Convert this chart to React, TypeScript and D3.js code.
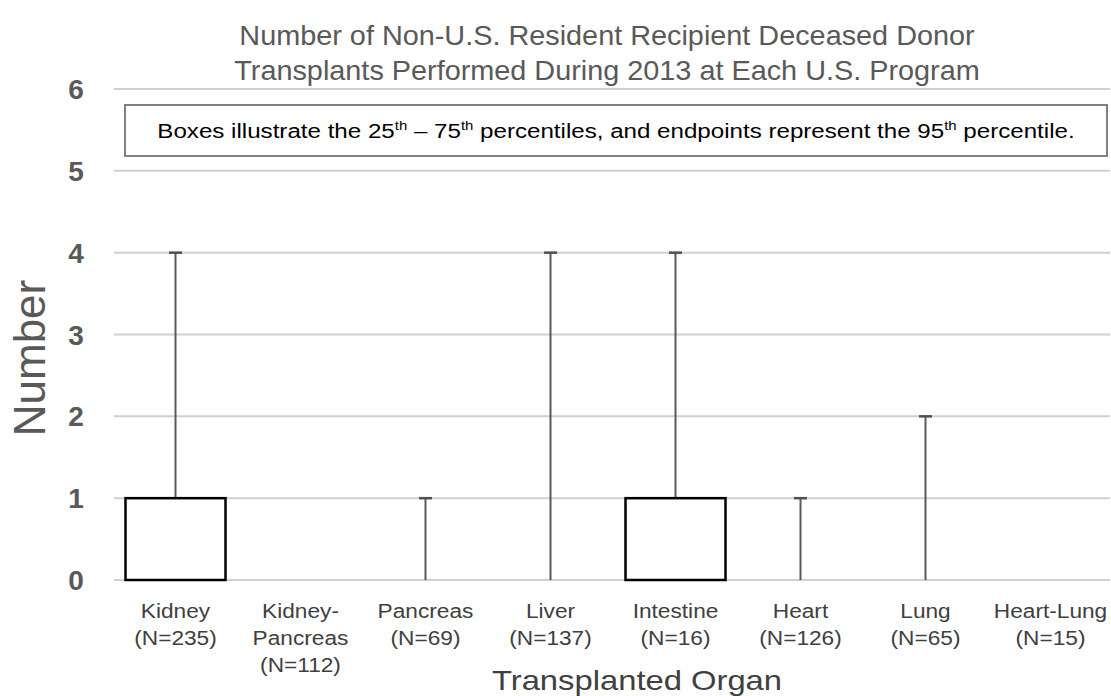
import React, { useEffect, useRef } from 'react';
import * as d3 from 'd3';

const organs = ['Kidney', 'Kidney-Pancreas', 'Pancreas', 'Liver', 'Intestine', 'Heart', 'Lung', 'Heart-Lung'];
const labelLines = [
  ['Kidney', '(N=235)'],
  ['Kidney-', 'Pancreas', '(N=112)'],
  ['Pancreas', '(N=69)'],
  ['Liver', '(N=137)'],
  ['Intestine', '(N=16)'],
  ['Heart', '(N=126)'],
  ['Lung', '(N=65)'],
  ['Heart-Lung', '(N=15)'],
];
const q25 = [0, 0, 0, 0, 0, 0, 0, 0];
const q75 = [1, 0, 0, 0, 1, 0, 0, 0];
const p95 = [4, 0, 1, 4, 4, 1, 2, 0];
const yTicks = [0, 1, 2, 3, 4, 5, 6];
const titleLines = [
  'Number of Non-U.S. Resident Recipient Deceased Donor',
  'Transplants Performed During 2013 at Each U.S. Program',
];

const W = 1111;
const H = 696;
const FONT = "'Liberation Sans', Arial, sans-serif";

export default function App() {
  const ref = useRef<SVGSVGElement>(null);

  useEffect(() => {
    const svg = d3.select(ref.current);
    svg.selectAll('*').remove();

    const x = d3.scaleBand().domain(organs).range([113, 1113]).paddingInner(0.2).paddingOuter(0.1);
    const y = d3.scaleLinear().domain([0, 6]).range([580, 89]);

    // the source image is a bit wider than tall, so text is stretched sideways
    const stretched = (cx: number, cy: number, sx: number) =>
      svg.append('g').attr('transform', `translate(${cx},${cy}) scale(${sx},1)`)
        .append('text')
        .attr('text-anchor', 'middle')
        .attr('font-family', FONT);

    // title
    titleLines.forEach((t, i) => {
      stretched(607, 45 + i * 35, 1.03)
        .attr('font-size', 28)
        .attr('fill', '#595959')
        .text(t);
    });

    // gridlines
    svg.append('g')
      .selectAll('line')
      .data(yTicks)
      .join('line')
      .attr('x1', 114)
      .attr('x2', 1110)
      .attr('y1', d => y(d))
      .attr('y2', d => y(d))
      .attr('stroke', '#d0d0d0')
      .attr('stroke-width', 2);

    // y tick labels
    svg.append('g')
      .selectAll('text')
      .data(yTicks)
      .join('text')
      .attr('x', 76)
      .attr('y', d => y(d))
      .attr('dy', '0.36em')
      .attr('text-anchor', 'middle')
      .attr('font-family', FONT)
      .attr('font-weight', 'bold')
      .attr('font-size', 28)
      .attr('fill', '#595959')
      .text(d => d);

    // y axis title
    svg.append('text')
      .attr('transform', 'translate(45,358) rotate(-90)')
      .attr('text-anchor', 'middle')
      .attr('font-family', FONT)
      .attr('font-size', 44)
      .attr('fill', '#595959')
      .text('Number');

    // whiskers and boxes
    const bw = x.bandwidth();
    const g = svg.append('g');
    organs.forEach((o, i) => {
      const cx = x(o)! + bw / 2;
      if (p95[i] > q75[i]) {
        g.append('line')
          .attr('x1', cx).attr('x2', cx)
          .attr('y1', y(q75[i])).attr('y2', y(p95[i]))
          .attr('stroke', '#595959')
          .attr('stroke-width', 2);
        g.append('line')
          .attr('x1', cx - 6.5).attr('x2', cx + 6.5)
          .attr('y1', y(p95[i])).attr('y2', y(p95[i]))
          .attr('stroke', '#505050')
          .attr('stroke-width', 2.5);
      }
      if (q75[i] > q25[i]) {
        g.append('rect')
          .attr('x', x(o)!)
          .attr('y', y(q75[i]))
          .attr('width', bw)
          .attr('height', y(q25[i]) - y(q75[i]))
          .attr('fill', 'none')
          .attr('stroke', '#000')
          .attr('stroke-width', 2.5);
      }
    });

    // note box
    svg.append('rect')
      .attr('x', 125).attr('y', 105)
      .attr('width', 982).attr('height', 51)
      .attr('fill', '#fff')
      .attr('stroke', '#808080')
      .attr('stroke-width', 2);
    const note = stretched(616, 138, 1.15)
      .attr('font-size', 21)
      .attr('fill', '#000');
    note.append('tspan').text('Boxes illustrate the 25');
    note.append('tspan').attr('font-size', 13).attr('dy', -8).text('th');
    note.append('tspan').attr('dy', 8).text(' \u2013 75');
    note.append('tspan').attr('font-size', 13).attr('dy', -8).text('th');
    note.append('tspan').attr('dy', 8).text(' percentiles, and endpoints represent the 95');
    note.append('tspan').attr('font-size', 13).attr('dy', -8).text('th');
    note.append('tspan').attr('dy', 8).text(' percentile.');

    // x labels
    organs.forEach((o, i) => {
      const cx = x(o)! + bw / 2;
      const t = stretched(cx, 618, 1.08)
        .attr('font-size', 21)
        .attr('fill', '#404040');
      labelLines[i].forEach((l, j) => {
        t.append('tspan').attr('x', 0).attr('y', j * 27).text(l);
      });
    });

    stretched(637, 690, 1.17)
      .attr('font-size', 28)
      .attr('fill', '#404040')
      .text('Transplanted Organ');
  }, []);

  return (
    <svg ref={ref} width={W} height={H} style={{ position: 'absolute', left: 0, top: 0, background: '#fff' }} />
  );
}
